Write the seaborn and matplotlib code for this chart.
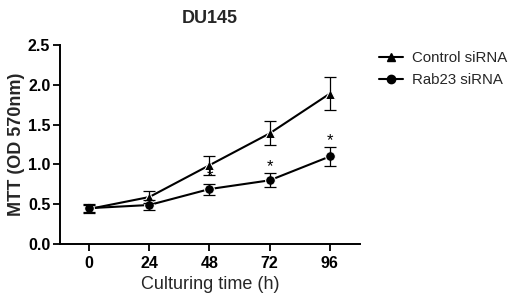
import matplotlib
matplotlib.use("Agg")
import matplotlib.pyplot as plt
import seaborn as sns
import pandas as pd
import numpy as np
from matplotlib.lines import Line2D

hours = [0, 24, 48, 72, 96]
control_mean = [0.44, 0.59, 0.99, 1.39, 1.89]
control_err = [0.05, 0.08, 0.12, 0.15, 0.21]
rab23_mean = [0.45, 0.49, 0.69, 0.80, 1.10]
rab23_err = [0.05, 0.06, 0.07, 0.09, 0.12]
star_hours = [48, 72, 96]
series_names = ["Control siRNA", "Rab23 siRNA"]

sns.set_theme(style="ticks")
plt.rcParams['font.family'] = ['Liberation Sans', 'DejaVu Sans']

df = pd.DataFrame({
    "hours": hours * 2,
    "mtt": control_mean + rab23_mean,
    "err": control_err + rab23_err,
    "group": [series_names[0]] * 5 + [series_names[1]] * 5,
})

fig = plt.figure(figsize=(5.15, 3.01), dpi=100)
ax = fig.add_axes([60/515, 57/301, 300/515, 199/301])

sns.lineplot(data=df, x="hours", y="mtt", hue="group", style="group",
             markers={"Control siRNA": "^", "Rab23 siRNA": "o"}, dashes=False,
             palette={"Control siRNA": "black", "Rab23 siRNA": "black"},
             markersize=7, linewidth=1.5, ax=ax, legend=False)

for g in series_names:
    sub = df[df.group == g]
    ax.errorbar(sub.hours, sub.mtt, yerr=sub.err, fmt="none", ecolor="black",
                elinewidth=0.9, capsize=4, capthick=0.9)

rab = df[df.group == series_names[1]].set_index("hours")
for h in star_hours:
    ax.text(h, rab.loc[h, "mtt"] + rab.loc[h, "err"] - 0.01, "*", ha="center",
            va="bottom", fontsize=12, color="black")

ax.set_xlim(-11.6, 108)
ax.set_ylim(0, 2.5)
ax.set_xticks(hours)
ax.set_yticks([0, 0.5, 1.0, 1.5, 2.0, 2.5])
ax.set_yticklabels(["0.0", "0.5", "1.0", "1.5", "2.0", "2.5"])
for lab in ax.get_xticklabels() + ax.get_yticklabels():
    lab.set_fontweight("bold")
    lab.set_fontsize(11.5)
ax.tick_params(width=1.3, length=5, colors="black")
ax.tick_params(axis="y", pad=2)
ax.tick_params(axis="x", pad=4)
for s in ["left", "bottom"]:
    ax.spines[s].set_linewidth(1.4)
    ax.spines[s].set_color("black")
sns.despine(ax=ax)

ax.set_xlabel("Culturing time (h)", fontsize=13, labelpad=3)
ax.set_ylabel("MTT (OD 570nm)", fontsize=13, fontweight="bold", labelpad=2)
ax.set_title("DU145", fontsize=13, fontweight="bold", pad=16)

handles = [Line2D([], [], color="black", marker="^", markersize=6, linewidth=1.5),
           Line2D([], [], color="black", marker="o", markersize=6, linewidth=1.5)]
fig.legend(handles, series_names, loc="upper left", bbox_to_anchor=(0.71, 0.875),
           frameon=False, fontsize=10.8, handlelength=1.6, handletextpad=0.6,
           labelspacing=0.55)

fig.savefig("out.png", dpi=100)
